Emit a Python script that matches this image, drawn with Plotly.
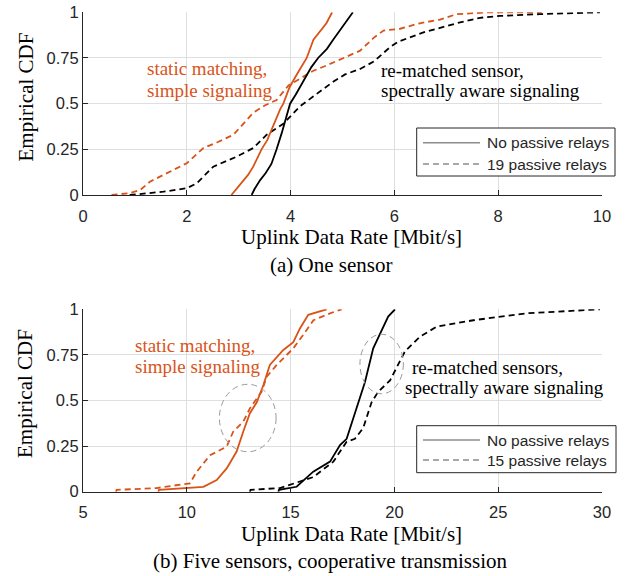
import plotly.graph_objects as go

W, H = 627, 576
ORANGE = "#D95319"
BLACK = "#000000"

# ---------------- data: (a) one sensor ----------------
a_static_norelay_x = [2.86, 2.95, 3.06, 3.18, 3.28, 3.36, 3.44, 3.55, 3.63, 3.72, 3.80, 3.86, 3.98, 4.10, 4.22, 4.31, 4.44, 4.55, 4.69, 4.80]
a_static_norelay_y = [0.0, 0.03, 0.064, 0.11, 0.155, 0.20, 0.25, 0.30, 0.355, 0.42, 0.47, 0.50, 0.59, 0.65, 0.71, 0.75, 0.85, 0.89, 0.94, 1.0]

a_match_norelay_x = [3.25, 3.30, 3.41, 3.52, 3.63, 3.70, 3.73, 3.83, 3.89, 3.95, 3.99, 4.10, 4.24, 4.40, 4.53, 4.70, 4.82, 4.95, 5.05, 5.20]
a_match_norelay_y = [0.0, 0.03, 0.08, 0.12, 0.17, 0.22, 0.25, 0.34, 0.40, 0.46, 0.50, 0.55, 0.62, 0.70, 0.75, 0.80, 0.85, 0.90, 0.94, 1.0]

a_static_relay_x = [0.55, 0.90, 1.10, 1.29, 1.55, 2.00, 2.32, 2.60, 2.90, 3.28, 3.50, 3.73, 3.96, 4.20, 4.44, 4.70, 4.95, 5.34, 5.60, 5.79, 6.11, 6.49, 6.88, 7.20, 7.84, 8.84]
a_static_relay_y = [0.0, 0.01, 0.027, 0.073, 0.11, 0.174, 0.257, 0.29, 0.33, 0.45, 0.49, 0.52, 0.60, 0.64, 0.68, 0.71, 0.74, 0.79, 0.86, 0.90, 0.91, 0.94, 0.96, 0.99, 1.0, 1.0]

a_match_relay_x = [0.90, 1.55, 2.00, 2.19, 2.51, 2.96, 3.28, 3.54, 3.86, 4.18, 4.44, 4.82, 5.05, 5.34, 5.60, 5.92, 6.08, 6.56, 7.20, 7.65, 8.03, 8.80, 9.96]
a_match_relay_y = [0.0, 0.018, 0.037, 0.064, 0.155, 0.21, 0.257, 0.33, 0.39, 0.485, 0.54, 0.62, 0.66, 0.69, 0.73, 0.81, 0.84, 0.89, 0.94, 0.97, 0.98, 0.99, 1.0]

# ---------------- data: (b) five sensors ----------------
b_static_norelay_x = [8.63, 8.66, 10.8, 11.44, 11.92, 12.4, 12.72, 13.04, 13.37, 13.69, 14.0, 14.65, 15.13, 15.45, 15.85, 16.58, 16.74]
b_static_norelay_y = [0.0, 0.01, 0.027, 0.064, 0.128, 0.22, 0.33, 0.43, 0.49, 0.585, 0.695, 0.777, 0.82, 0.895, 0.97, 0.996, 1.0]

b_static_relay_x = [6.59, 6.62, 8.55, 10.15, 10.48, 11.12, 11.92, 12.24, 12.72, 13.04, 13.6, 13.85, 14.33, 15.13, 15.61, 16.1, 16.9, 17.46]
b_static_relay_y = [0.0, 0.01, 0.02, 0.046, 0.11, 0.20, 0.247, 0.33, 0.384, 0.457, 0.548, 0.63, 0.695, 0.786, 0.86, 0.94, 0.978, 1.0]

b_match_norelay_x = [14.41, 14.44, 15.29, 16.09, 16.9, 17.38, 17.7, 18.18, 18.58, 18.98, 19.47, 19.7, 20.03]
b_match_norelay_y = [0.0, 0.01, 0.027, 0.11, 0.165, 0.256, 0.29, 0.457, 0.60, 0.786, 0.905, 0.96, 1.0]

b_match_relay_x = [13.04, 13.07, 14.49, 16.09, 17.06, 17.38, 17.7, 18.1, 18.5, 18.9, 19.22, 19.79, 20.19, 20.51, 21.23, 22.04, 23.8, 24.93, 26.37, 29.9]
b_match_relay_y = [0.0, 0.01, 0.02, 0.08, 0.165, 0.22, 0.274, 0.29, 0.35, 0.49, 0.548, 0.61, 0.695, 0.77, 0.85, 0.905, 0.94, 0.955, 0.978, 1.0]

y_ticks = [0, 0.25, 0.5, 0.75, 1]
y_ticklabels = ["0", "0.25", "0.5", "0.75", "1"]
a_xticks = [0, 2, 4, 6, 8, 10]
b_xticks = [5, 10, 15, 20, 25, 30]

# highlight circles in (b): [x0, x1, y0, y1]
circle_static = [11.57, 14.30, 0.219, 0.589]
circle_match = [18.34, 20.43, 0.537, 0.863]

legend_a = ["No passive relays", "19 passive relays"]
legend_b = ["No passive relays", "15 passive relays"]

# ---------------- figure ----------------
def px(x):
    return x / W

def py(y):
    return 1 - y / H

DASH = "6px,4px"
fig = go.Figure()

def add_line(x, y, color, dash, xa, ya):
    fig.add_trace(go.Scatter(x=x, y=y, mode="lines", xaxis=xa, yaxis=ya,
                             line=dict(color=color, width=1.8, dash=dash),
                             showlegend=False, hoverinfo="skip"))

add_line(a_static_relay_x, a_static_relay_y, ORANGE, DASH, "x", "y")
add_line(a_match_relay_x, a_match_relay_y, BLACK, DASH, "x", "y")
add_line(a_static_norelay_x, a_static_norelay_y, ORANGE, "solid", "x", "y")
add_line(a_match_norelay_x, a_match_norelay_y, BLACK, "solid", "x", "y")

add_line(b_static_relay_x, b_static_relay_y, ORANGE, DASH, "x2", "y2")
add_line(b_match_relay_x, b_match_relay_y, BLACK, DASH, "x2", "y2")
add_line(b_static_norelay_x, b_static_norelay_y, ORANGE, "solid", "x2", "y2")
add_line(b_match_norelay_x, b_match_norelay_y, BLACK, "solid", "x2", "y2")

SANS = "Liberation Sans, Arial, sans-serif"
SERIF = "Liberation Serif, Times New Roman, serif"
AXC = "#262626"
GRID = "#dfdfdf"

common_axis = dict(showline=True, linecolor=AXC, linewidth=1, ticks="inside",
                   ticklen=5, tickcolor=AXC, tickwidth=1, showgrid=True,
                   gridcolor=GRID, gridwidth=1, zeroline=False,
                   tickfont=dict(family=SANS, size=16.5, color=AXC),
                   mirror=False, automargin=False)

dom_x = [px(83), px(602)]
fig.update_layout(
    width=W, height=H, margin=dict(l=0, r=0, t=0, b=0),
    paper_bgcolor="white", plot_bgcolor="white", showlegend=False,
    xaxis=dict(domain=dom_x, range=[0, 10], tickvals=a_xticks, anchor="y",
               ticklabelstandoff=6, **common_axis),
    yaxis=dict(domain=[py(195), py(12.3)], range=[0, 1], tickvals=y_ticks,
               ticktext=y_ticklabels, anchor="x", **common_axis),
    xaxis2=dict(domain=dom_x, range=[5, 30], tickvals=b_xticks, anchor="y2",
                ticklabelstandoff=5, **common_axis),
    yaxis2=dict(domain=[py(491.7), py(309.3)], range=[0, 1], tickvals=y_ticks,
                ticktext=y_ticklabels, anchor="x2", **common_axis),
)

ann = []
def text(x, y, s, size, color="black", family=SERIF, xanchor="left", angle=0):
    ann.append(dict(x=px(x), y=py(y), xref="paper", yref="paper", text=s,
                    showarrow=False, xanchor=xanchor, yanchor="middle",
                    textangle=angle,
                    font=dict(family=family, size=size, color=color)))

# axis titles & captions
text(351.5, 237, "Uplink Data Rate [Mbit/s]", 21, xanchor="center")
text(330.5, 265, "(a) One sensor", 21, xanchor="center")
text(351.5, 534, "Uplink Data Rate [Mbit/s]", 21, xanchor="center")
text(330.5, 561, "(b) Five sensors, cooperative transmission", 21, xanchor="center")
text(25, 97.5, "Empirical CDF", 21, xanchor="center", angle=-90)
text(25, 394, "Empirical CDF", 21, xanchor="center", angle=-90)

# in-plot labels
text(145, 69, "static matching,", 19, ORANGE)
text(145, 90, "simple signaling", 19, ORANGE)
text(379, 70, "re-matched sensor,", 19)
text(379, 90, "spectrally aware signaling", 19)
text(133, 345, "static matching,", 19, ORANGE)
text(133, 366, "simple signaling", 19, ORANGE)
text(410, 367, "re-matched sensors,", 19)
text(403, 387, "spectrally aware signaling", 19)

shapes = []
# legends (drawn manually)
def legend(box, rows, labels):
    x0, x1, y0, y1 = box
    shapes.append(dict(type="rect", xref="paper", yref="paper",
                       x0=px(x0), x1=px(x1), y0=py(y1), y1=py(y0),
                       line=dict(color=AXC, width=1), fillcolor="white", layer="above"))
    for r, lab, d in zip(rows, labels, ["solid", DASH]):
        shapes.append(dict(type="line", xref="paper", yref="paper",
                           x0=px(423), x1=px(480), y0=py(r), y1=py(r),
                           line=dict(color="#8c8c8c", width=1.5, dash=d), layer="above"))
        text(485, r, lab, 15.5, AXC, SANS)

legend([416.7, 615, 128, 176], [142.7, 164], legend_a)
legend([416.7, 616, 425.7, 472.7], [440, 460], legend_b)

for c in (circle_static, circle_match):
    shapes.append(dict(type="circle", xref="x2", yref="y2",
                       x0=c[0], x1=c[1], y0=c[2], y1=c[3],
                       line=dict(color="#9a9a9a", width=1, dash="6px,4px"),
                       layer="above"))

fig.update_layout(annotations=ann, shapes=shapes)
fig.write_html("out.html")
